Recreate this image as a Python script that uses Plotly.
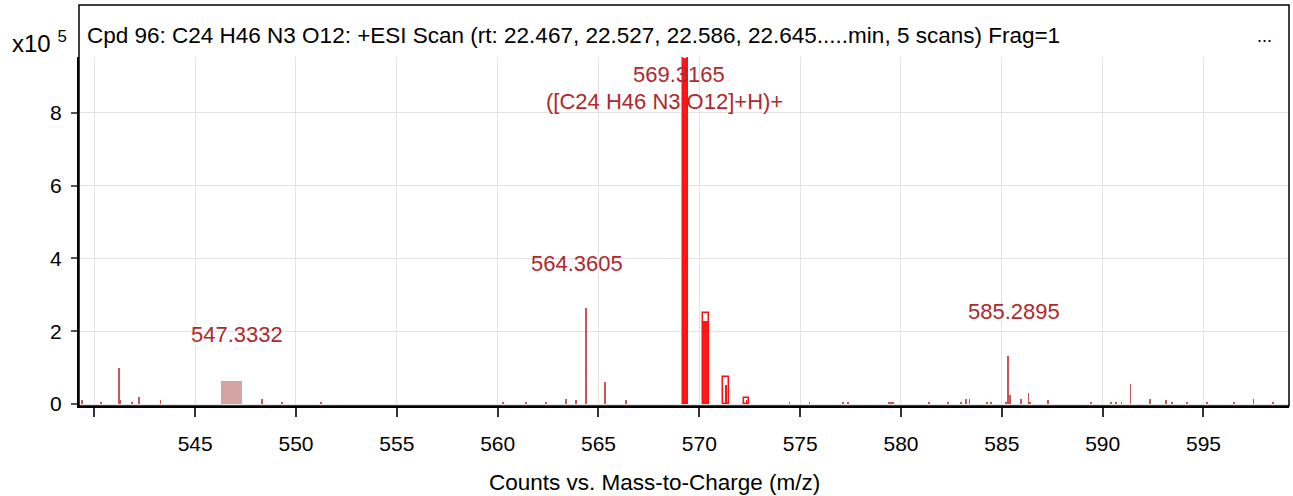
import plotly.graph_objects as go

# ---------------- data (intensity in units of 1e5 counts) ----------------
TITLE = "Cpd 96: C24 H46 N3 O12: +ESI Scan (rt: 22.467, 22.527, 22.586, 22.645.....min, 5 scans) Frag=1"

stick_mz = [539.37, 540.33, 541.23, 541.30, 541.85, 542.20, 543.28, 548.32, 549.30, 551.25,
            560.26, 561.42, 562.40, 563.37, 563.90, 564.3605, 565.33, 566.38,
            574.47, 575.46, 577.12, 577.36, 579.40, 579.50, 579.60, 581.37, 582.35,
            582.96, 583.22, 583.40, 584.28, 584.46, 585.22, 585.2895, 585.40, 585.97,
            586.32, 586.40, 587.29, 589.41, 590.40, 590.66, 590.93, 591.38, 592.35,
            593.14, 593.42, 594.20, 595.18, 596.50, 597.48, 598.45]
stick_int = [0.11, 0.05, 0.98, 0.10, 0.05, 0.19, 0.10, 0.15, 0.05, 0.05,
             0.05, 0.05, 0.05, 0.15, 0.10, 2.65, 0.60, 0.10,
             0.05, 0.05, 0.05, 0.05, 0.05, 0.05, 0.05, 0.05, 0.05,
             0.05, 0.15, 0.15, 0.05, 0.05, 0.05, 1.33, 0.24, 0.15,
             0.29, 0.05, 0.10, 0.05, 0.05, 0.05, 0.05, 0.55, 0.15,
             0.10, 0.05, 0.05, 0.05, 0.05, 0.15, 0.05]

# compound isotope cluster (measured) and predicted isotope boxes
meas_mz = [569.3165, 570.32]
meas_int = [9.50, 2.28]
meas_thin_mz = [571.32, 572.33]
meas_thin_int = [0.53, 0.10]
iso_mz = [569.3165, 570.32, 571.32, 572.33]
iso_int = [9.52, 2.50, 0.73, 0.16]

# shaded region around 547
shade_mz = [546.82]
shade_int = [0.63]

# peak labels
label_text = ["569.3165", "([C24 H46 N3 O12]+H)+", "564.3605", "547.3332", "585.2895"]
label_x = [568.98, 568.29, 563.95, 547.06, 585.59]
label_y = [9.04, 8.30, 3.87, 1.90, 2.55]

x_ticks = [540, 545, 550, 555, 560, 565, 570, 575, 580, 585, 590, 595]
x_ticktext = [" "] + [str(v) for v in x_ticks[1:]]
y_ticks = [0, 2, 4, 6, 8]

FONT = "Arial, Liberation Sans, sans-serif"
LABEL_RED = "#b0282c"

fig = go.Figure()

fig.add_trace(go.Bar(x=shade_mz, y=shade_int, width=1.03,
                     marker=dict(color="#d6a3a3", line=dict(width=0)), hoverinfo="skip"))
fig.add_trace(go.Bar(x=stick_mz, y=stick_int, width=0.09,
                     marker=dict(color="rgba(185,45,45,0.8)", line=dict(width=0))))
fig.add_trace(go.Bar(x=meas_mz, y=meas_int, width=0.25,
                     marker=dict(color="rgba(250,0,0,0.9)", line=dict(width=0))))
fig.add_trace(go.Bar(x=meas_thin_mz, y=meas_thin_int, width=0.07,
                     marker=dict(color="rgba(240,0,0,0.9)", line=dict(width=0))))
fig.add_trace(go.Bar(x=iso_mz, y=iso_int, width=0.27,
                     marker=dict(color="rgba(0,0,0,0)", line=dict(color="#ff1010", width=1.5))))

for t, x, y in zip(label_text, label_x, label_y):
    fig.add_annotation(x=x, y=y, text=t, showarrow=False, xanchor="center", yanchor="middle",
                       font=dict(family=FONT, size=22, color=LABEL_RED))

# title strip inside the frame
fig.add_annotation(xref="paper", yref="paper", x=0, y=1.063, xshift=6, text=TITLE,
                   showarrow=False, xanchor="left", yanchor="middle",
                   font=dict(family=FONT, size=22.5, color="black"))
fig.add_annotation(xref="paper", yref="paper", x=0.980, y=1.06, text="...",
                   showarrow=False, xanchor="center", yanchor="middle",
                   font=dict(family=FONT, size=18, color="black"))
fig.add_annotation(xref="paper", yref="paper", x=-0.057, y=1.043, text="x10 <sup>5</sup>",
                   showarrow=False, xanchor="left", yanchor="middle",
                   font=dict(family=FONT, size=24, color="black"))
fig.add_annotation(xref="paper", yref="paper", x=0.476, y=-0.218,
                   text="Counts vs. Mass-to-Charge (m/z)", showarrow=False,
                   xanchor="center", yanchor="middle",
                   font=dict(family=FONT, size=22.5, color="black"))

# outer frame (plot + title strip)
fig.add_shape(type="rect", xref="paper", yref="paper", x0=0, x1=1, y0=0, y1=1.149,
              line=dict(color="black", width=1.5), fillcolor="rgba(0,0,0,0)", layer="above")

fig.update_layout(
    width=1293, height=496,
    margin=dict(l=79, r=4, t=57, b=90),
    paper_bgcolor="white", plot_bgcolor="white",
    barmode="overlay", bargap=0, showlegend=False,
    font=dict(family=FONT, size=21, color="black"),
)
fig.update_xaxes(range=[539.24, 599.24], tickvals=x_ticks, ticktext=x_ticktext,
                 ticks="outside", ticklen=9, tickwidth=1.5, tickcolor="#333",
                 showline=True, linecolor="black", linewidth=2,
                 showgrid=True, gridcolor="#e3e3e3", gridwidth=1, zeroline=False,
                 ticklabelstandoff=9, tickfont=dict(size=21))
fig.update_yaxes(range=[-0.055, 9.533], tickvals=y_ticks,
                 ticks="outside", ticklen=6, tickwidth=1.5, tickcolor="#555",
                 showline=True, linecolor="black", linewidth=2,
                 showgrid=True, gridcolor="#e3e3e3", gridwidth=1, zeroline=False,
                 ticklabelstandoff=5, tickfont=dict(size=21))

# drop the default 8px page margin so the figure sits at the window origin
fig.write_html("out.html", config={"displayModeBar": False},
               post_script="document.body.style.margin='0';")
